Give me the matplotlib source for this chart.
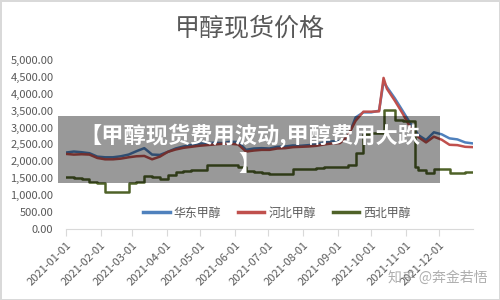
import matplotlib
matplotlib.use("Agg")
import matplotlib.pyplot as plt
import matplotlib.dates as mdates
from matplotlib.patches import Rectangle
import pandas as pd

# 数据（按图读取，周度 + 十月/十一月补点）
dates = [
    "2021-01-01", "2021-01-08", "2021-01-15", "2021-01-22", "2021-01-29",
    "2021-02-05", "2021-02-12", "2021-02-19", "2021-02-26",
    "2021-03-05", "2021-03-12", "2021-03-19", "2021-03-26",
    "2021-04-02", "2021-04-09", "2021-04-16", "2021-04-23", "2021-04-30",
    "2021-05-07", "2021-05-14", "2021-05-21", "2021-05-28",
    "2021-06-04", "2021-06-11", "2021-06-18", "2021-06-25",
    "2021-07-02", "2021-07-09", "2021-07-16", "2021-07-23", "2021-07-30",
    "2021-08-06", "2021-08-13", "2021-08-20", "2021-08-27",
    "2021-09-03", "2021-09-10", "2021-09-17", "2021-09-24",
    "2021-10-01", "2021-10-08", "2021-10-12", "2021-10-15", "2021-10-22", "2021-10-29",
    "2021-11-05", "2021-11-09", "2021-11-12", "2021-11-19", "2021-11-26",
    "2021-12-03", "2021-12-10", "2021-12-17", "2021-12-24", "2021-12-31",
]

east_china = [
    2260, 2290, 2270, 2240, 2140,
    2120, 2120, 2150, 2200,
    2300, 2390, 2200, 2190,
    2280, 2380, 2440, 2480, 2520,
    2540, 2550, 2540, 2580,
    2570, 2340, 2380, 2390,
    2380, 2430, 2440, 2470, 2460,
    2480, 2500, 2560, 2590,
    2600, 2700, 3300, 3450,
    3450, 3500, 4350, 4200, 3870, 3500,
    3120, 2950, 2780, 2630, 2860,
    2800, 2680, 2650, 2560, 2530,
]

hebei = [
    2220, 2200, 2210, 2200, 2100,
    2060, 2060, 2080, 2120,
    2150, 2160, 2060, 2140,
    2280, 2350, 2400, 2430, 2460,
    2480, 2500, 2520, 2520,
    2500, 2290, 2320, 2340,
    2340, 2380, 2390, 2420, 2430,
    2440, 2460, 2500, 2530,
    2540, 2750, 3200, 3470,
    3470, 3480, 4470, 4150, 3800, 3420,
    3000, 2850, 2720, 2560, 2730,
    2640, 2490, 2480, 2430, 2420,
]

northwest = [
    1540, 1500, 1480, 1400, 1350,
    1100, 1100, 1100, 1350,
    1400, 1560, 1530, 1490,
    1590, 1690, 1700, 1750, 1750,
    1900, 1900, 1900, 1900,
    1840, 1700, 1690, 1650,
    1640, 1640, 1640, 1760, 1770,
    1780, 1790, 1820, 1830,
    1840, 1890, 2240, 2800,
    2830, 2830, 3520, 3520, 3220, 3200,
    3190, 1840, 1750, 1650, 1760,
    1760, 1660, 1660, 1670, 1670,
]

month_ticks = pd.date_range("2021-01-01", "2021-12-01", freq="MS")
x = pd.to_datetime(dates)

plt.rcParams["font.family"] = ["Noto Sans CJK SC", "DejaVu Sans"]
grey = "#595959"

fig = plt.figure(figsize=(5, 3), dpi=100)
fig.patch.set_edgecolor("#d9d9d9")
fig.patch.set_linewidth(2)
ax = fig.add_axes([0.132, 0.237, 0.814, 0.563])

ax.plot(x, east_china, color="#4F81BD", lw=1.8, label="华东甲醇")
ax.plot(x, hebei, color="#C0504D", lw=1.8, label="河北甲醇")
ax.plot(x, northwest, color="#4F6228", lw=1.8, drawstyle="steps-post", label="西北甲醇")

ax.set_ylim(0, 5000)
ax.set_yticks(range(0, 5001, 500))
ax.yaxis.set_major_formatter(matplotlib.ticker.FuncFormatter(lambda v, p: f"{v:,.2f}"))
ax.set_xlim(pd.Timestamp("2021-01-01"), pd.Timestamp("2021-12-31"))
ax.set_xticks(month_ticks)
ax.xaxis.set_major_formatter(mdates.DateFormatter("%Y-%m-%d"))

for s in ["top", "right", "left"]:
    ax.spines[s].set_visible(False)
ax.spines["bottom"].set_color("#d9d9d9")
ax.tick_params(axis="y", length=0, pad=9, labelsize=8, labelcolor=grey)
ax.tick_params(axis="x", length=5, color="#d9d9d9", pad=3, labelsize=8, labelcolor=grey)
for lbl in ax.get_xticklabels():
    lbl.set_rotation(45)
    lbl.set_ha("right")
    lbl.set_va("top")
    lbl.set_rotation_mode("anchor")

fig.text(0.5, 1 - 28 / 300, "甲醇现货价格", ha="center", va="center", fontsize=18, color=grey)

fig.legend(loc="center", bbox_to_anchor=(0.554, 0.29), ncol=3, frameon=False,
           fontsize=8.6, handlelength=2.2, handletextpad=0.35, columnspacing=1.4,
           labelcolor=grey)
for line in fig.legends[0].get_lines():
    line.set_linewidth(2.5)

# 半透明标题遮罩
fig.add_artist(Rectangle((58 / 500, 1 - 183 / 300), 382 / 500, 67 / 300,
                         transform=fig.transFigure, facecolor="black", alpha=0.4,
                         edgecolor="none", zorder=10))
fig.text(0.5, 1 - 150 / 300, "【甲醇现货费用波动,甲醇费用大跌\n】", ha="center", va="center",
         color="white", fontsize=16, fontweight="bold", linespacing=1.3, zorder=11)

fig.text(487 / 500, 1 - 278 / 300, "知乎 @奔金若悟", ha="right", va="center",
         color="#9a9a9a", fontsize=10, alpha=0.8)

fig.savefig("out.png", dpi=100)
